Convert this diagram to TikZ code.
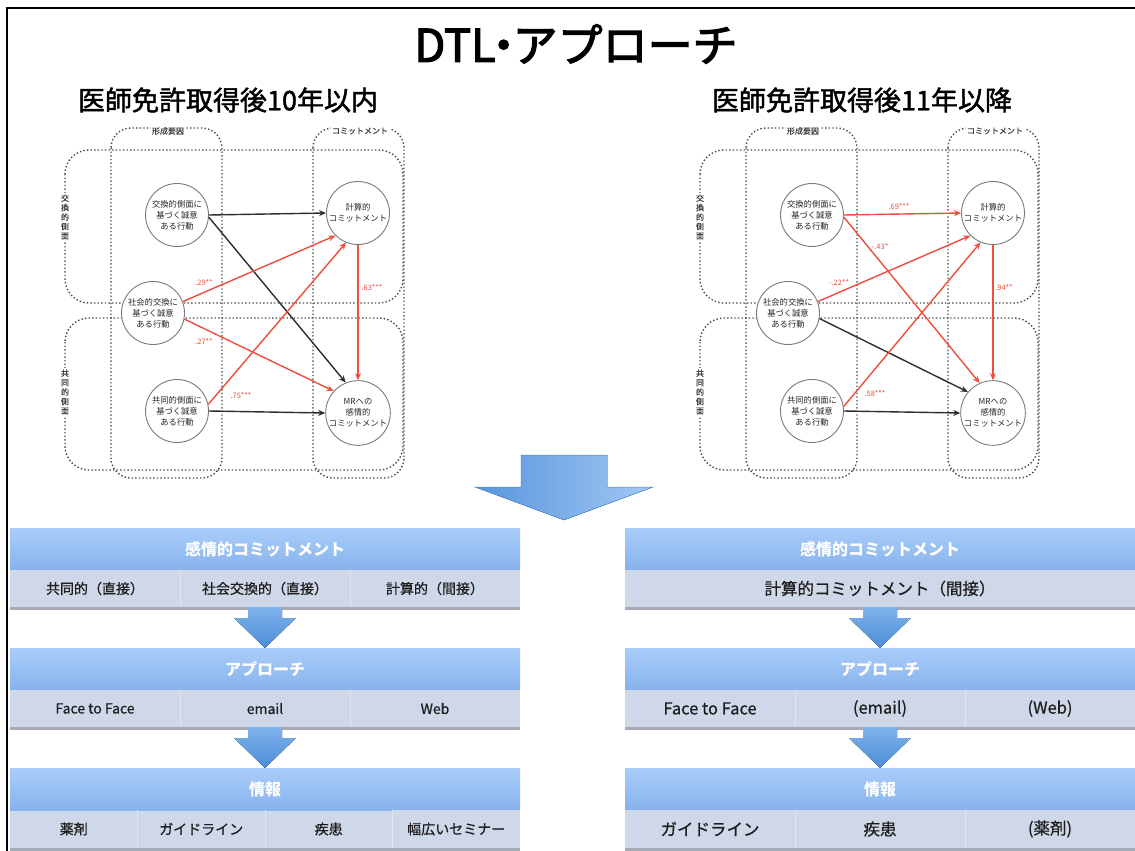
\documentclass[tikz,border=0pt]{standalone}
\usepackage{fontspec}
\setmainfont{Noto Sans CJK JP}
\newfontfamily\heavyfont[FakeBold=2.6]{Noto Sans CJK JP}
\newfontfamily\subfont[FakeBold=1.6]{Noto Sans CJK JP}
\newfontfamily\semifont[FakeBold=0.7]{Noto Sans CJK JP}
\usetikzlibrary{arrows.meta}

\definecolor{dotgray}{HTML}{4A4A4A}
\definecolor{circgray}{HTML}{7A7A7A}
\definecolor{labgray}{HTML}{444444}
\definecolor{arrred}{HTML}{EF4E3C}
\definecolor{arrblk}{HTML}{2E2E2E}
\definecolor{hdrtop}{HTML}{AACDFA}
\definecolor{hdrbot}{HTML}{86B2EC}
\definecolor{rowfill}{HTML}{CFD8E9}
\definecolor{rowline}{HTML}{E0E6F1}
\definecolor{rowshade}{HTML}{A4AAB6}
\definecolor{rowtext}{HTML}{1E1E1E}
\definecolor{bigleft}{HTML}{5896DE}
\definecolor{bigright}{HTML}{A3C8F3}
\definecolor{bigedge}{HTML}{4C86CC}
\definecolor{smalltop}{HTML}{80B4EC}
\definecolor{smallbot}{HTML}{4B8BD5}

\tikzset{
  dotbox/.style={draw=dotgray, line width=1.4pt, line cap=butt, dash pattern=on 1.4pt off 2.2pt},
  framelbl/.style={fill=white, inner sep=1.5pt, text=labgray, font=\semifont\fontsize{8}{9.4}\selectfont, align=center},
  circ/.style={circle, draw=circgray, line width=0.9pt, fill=white, minimum size=63pt, inner sep=0pt,
    align=center, text=black!85, font=\fontsize{8.3}{11}\selectfont},
  blkarr/.style={draw=arrblk, line width=1.4pt, -{Stealth[length=7pt,width=6pt]}},
  redarr/.style={draw=arrred, line width=1.4pt, -{Stealth[length=7pt,width=6pt]}},
  coef/.style={text=arrred, inner sep=0pt, font=\fontsize{7.5}{8}\selectfont},
  hdr/.style={rectangle, inner sep=0pt, outer sep=0pt, minimum height=42pt,
    top color=hdrtop, bottom color=hdrbot, text=white, font=\bfseries\fontsize{16}{18}\selectfont},
  cell/.style={rectangle, inner sep=0pt, outer sep=0pt, minimum height=37pt, fill=rowfill,
    text=rowtext, font=\semifont\fontsize{14}{16}\selectfont},
  cellbig/.style={cell, font=\semifont\fontsize{16.5}{18}\selectfont},
}

% dotted grouping frames and the five construct circles of one path model
\newcommand{\modelframe}{%
  \draw[dotbox, rounded corners=20pt] (111,128) rectangle (222,478);
  \draw[dotbox, rounded corners=20pt] (313,128) rectangle (404,478);
  \draw[dotbox, rounded corners=24pt] (65,150) rectangle (403,303);
  \draw[dotbox, rounded corners=24pt] (65,318) rectangle (403,470);
  \node[framelbl] (colF) at (168,131) {形成要因};
  \node[framelbl] (colC) at (360,131) {コミットメント};
  \node[framelbl] (rowX) at (65,217) {交\\換\\的\\側\\面};
  \node[framelbl] (rowK) at (65,392) {共\\同\\的\\側\\面};
  \node[circ] (A) at (177,215) {交換的側面に\\基づく誠意\\ある行動};
  \node[circ] (B) at (153,313) {社会的交換に\\基づく誠意\\ある行動};
  \node[circ] (C) at (177,411) {共同的側面に\\基づく誠意\\ある行動};
  \node[circ] (D) at (358,213) {計算的\\コミットメント};
  \node[circ] (E) at (358,413) {MRへの\\感情的\\コミットメント};
}

% block arrow pointing down between table blocks
\newcommand{\downarrowblock}[2]{%
  \fill[top color=smalltop, bottom color=smallbot]
    (#1-17,#2) -- (#1+17,#2) -- (#1+17,#2+11) -- (#1+31,#2+11) -- (#1,#2+41)
    -- (#1-31,#2+11) -- (#1-17,#2+11) -- cycle;
}

\begin{document}
\begin{tikzpicture}[x=1pt, y=-1pt]
\useasboundingbox (0,0) rectangle (1135,851);
\fill[white] (0,0) rectangle (1135,851);

% page frame
\draw[line width=2pt] (7,851) -- (7,8) -- (1135,8);

% titles
\node[font=\heavyfont\fontsize{45}{48}\selectfont] (title) at (576,44) {DTL\kern-0.32em・\kern-0.3em アプローチ};
\node[font=\subfont\fontsize{27}{30}\selectfont] (subL) at (228,100) {医師免許取得後10年以内};
\node[font=\subfont\fontsize{27}{30}\selectfont] (subR) at (862,100) {医師免許取得後11年以降};

% path model: within 10 years
\begin{scope}[name prefix=L-]
  \modelframe
  \draw[blkarr] (A.0) -- (D.180);
  \draw[blkarr] (A.-4) -- (E.112);
  \draw[redarr] (B.21) -- (D.225);
  \draw[redarr] (B.-11) -- (E.138);
  \draw[redarr] (C.12) -- (D.248);
  \draw[blkarr] (C.0) -- (E.180);
  \draw[redarr] (D.south) -- (E.north);
  \node[coef] (c1) at (204,283) {.29**};
  \node[coef] (c2) at (204,342) {.27**};
  \node[coef] (c3) at (241,396) {.75***};
  \node[coef] (c4) at (372,288) {.63***};
\end{scope}

% path model: 11 years and later
\begin{scope}[xshift=635pt, name prefix=R-]
  \modelframe
  \draw[redarr] (A.0) -- (D.180);
  \draw[redarr] (A.-4) -- (E.114);
  \draw[redarr] (B.21) -- (D.225);
  \draw[blkarr] (B.-10) -- (E.140);
  \draw[redarr] (C.8) -- (D.247);
  \draw[blkarr] (C.0) -- (E.180);
  \draw[redarr] (D.south) -- (E.north);
  \node[coef] (c1) at (264,207) {.69***};
  \node[coef] (c2) at (245,247) {-.43*};
  \node[coef] (c3) at (204,283) {-.22**};
  \node[coef] (c4) at (240,394) {.58***};
  \node[coef] (c5) at (369,288) {.94**};
\end{scope}

% large down arrow
\filldraw[left color=bigleft, right color=bigright, draw=bigedge, line width=0.5pt]
  (521,455) -- (607,455) -- (607,487) -- (653,487) -- (564,520) -- (475,487) -- (521,487) -- cycle;

% ---- left column of tables ----
\fill[rowshade] (10,607) rectangle (520,610);
\fill[rowshade] (10,727) rectangle (520,730);
\fill[rowshade] (10,848) rectangle (520,851);
\node[hdr, minimum width=510pt] (L1h) at (265,549) {感情的コミットメント};
\node[cell, minimum width=170pt] (L1a) at (95,588.5) {共同的（直接）};
\node[cell, minimum width=170pt] (L1b) at (265,588.5) {社会交換的（直接）};
\node[cell, minimum width=170pt] (L1c) at (435,588.5) {計算的（間接）};
\draw[rowline] (180,570) -- (180,607) (350,570) -- (350,607);
\downarrowblock{265}{607}

\node[hdr, minimum width=510pt] (L2h) at (265,669) {アプローチ};
\node[cell, minimum width=170pt] (L2a) at (95,708.5) {Face to Face};
\node[cell, minimum width=170pt] (L2b) at (265,708.5) {email};
\node[cell, minimum width=170pt] (L2c) at (435,708.5) {Web};
\draw[rowline] (180,690) -- (180,727) (350,690) -- (350,727);
\downarrowblock{265}{727}

\node[hdr, minimum width=510pt] (L3h) at (265,789) {情報};
\node[cell, minimum width=127.5pt] (L3a) at (73.75,829) {薬剤};
\node[cell, minimum width=127.5pt] (L3b) at (201.25,829) {ガイドライン};
\node[cell, minimum width=127.5pt] (L3c) at (328.75,829) {疾患};
\node[cell, minimum width=127.5pt, minimum height=38pt] (L3d) at (456.25,829) {幅広いセミナー};
\draw[rowline] (137.5,810) -- (137.5,848) (265,810) -- (265,848) (392.5,810) -- (392.5,848);

% ---- right column of tables ----
\fill[rowshade] (625,607) rectangle (1135,610);
\fill[rowshade] (625,727) rectangle (1135,730);
\fill[rowshade] (625,848) rectangle (1135,851);
\node[hdr, minimum width=510pt] (R1h) at (880,549) {感情的コミットメント};
\node[cellbig, minimum width=510pt] (R1a) at (880,588.5) {計算的コミットメント（間接）};
\downarrowblock{880}{607}

\node[hdr, minimum width=510pt] (R2h) at (880,669) {アプローチ};
\node[cellbig, minimum width=170pt] (R2a) at (710,708.5) {Face to Face};
\node[cellbig, minimum width=170pt] (R2b) at (880,708.5) {(email)};
\node[cellbig, minimum width=170pt] (R2c) at (1050,708.5) {(Web)};
\draw[rowline] (795,690) -- (795,727) (965,690) -- (965,727);
\downarrowblock{880}{727}

\node[hdr, minimum width=510pt] (R3h) at (880,789) {情報};
\node[cellbig, minimum width=170pt, minimum height=38pt] (R3a) at (710,829) {ガイドライン};
\node[cellbig, minimum width=170pt, minimum height=38pt] (R3b) at (880,829) {疾患};
\node[cellbig, minimum width=170pt, minimum height=38pt] (R3c) at (1050,829) {(薬剤)};
\draw[rowline] (795,810) -- (795,848) (965,810) -- (965,848);
\end{tikzpicture}
\end{document}
